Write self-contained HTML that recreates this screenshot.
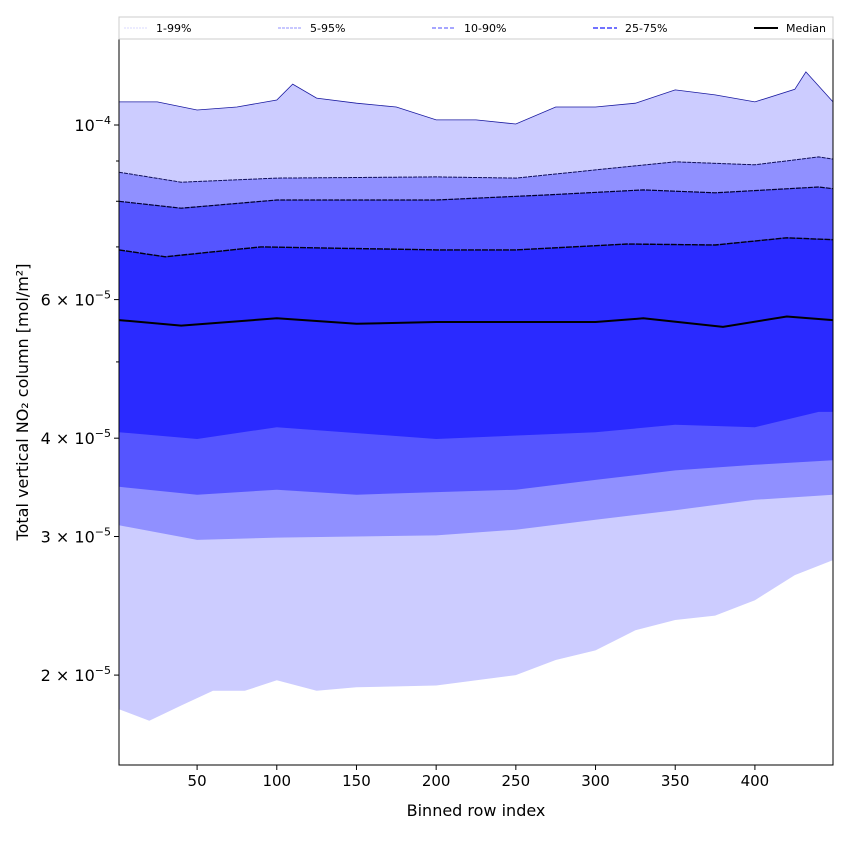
<!DOCTYPE html>
<html><head><meta charset="utf-8"><style>
body{margin:0;background:#fff;font-family:"DejaVu Sans","Liberation Sans",sans-serif}
</style></head><body>
<svg id="chart" width="850" height="850" xmlns="http://www.w3.org/2000/svg" font-family="DejaVu Sans, Liberation Sans, sans-serif"></svg>
<script>
// data (values in units of 1e-5 mol/m²)
const xsP99=[1,25,50,75,100,110,125,150,175,200,225,250,275,300,325,350,375,400,425,432,449];
const p99=[10.7,10.7,10.45,10.54,10.76,11.27,10.82,10.66,10.54,10.15,10.15,10.03,10.54,10.54,10.66,11.08,10.92,10.7,11.1,11.68,10.7];
const xsP95=[1,40,100,200,250,300,350,400,440,449];
const p95=[8.71,8.46,8.56,8.59,8.56,8.77,8.98,8.90,9.11,9.05];
const xsP90=[1,40,100,200,270,330,375,440,449];
const p90=[8.00,7.84,8.03,8.03,8.15,8.27,8.20,8.34,8.30];
const xsP75=[1,30,90,200,250,320,375,420,449];
const p75=[6.94,6.80,7.00,6.94,6.94,7.06,7.04,7.19,7.15];
const xsMed=[1,40,100,150,200,300,330,380,420,449];
const med=[5.65,5.56,5.68,5.59,5.62,5.62,5.68,5.54,5.71,5.65];
const xsP25=[1,50,100,200,300,350,400,440,449];
const p25=[4.07,3.99,4.13,3.99,4.07,4.16,4.13,4.32,4.32];
const xsP10=[1,50,100,150,250,300,350,400,449];
const p10=[3.47,3.39,3.44,3.39,3.44,3.54,3.64,3.70,3.75];
const xsP5=[1,50,100,200,250,300,350,400,449];
const p5=[3.10,2.97,2.99,3.01,3.06,3.15,3.24,3.34,3.39];
const xsP1=[1,20,40,60,80,100,125,150,200,250,275,300,325,350,375,400,425,449];
const p1=[1.81,1.75,1.83,1.91,1.91,1.97,1.91,1.93,1.94,2.0,2.09,2.15,2.28,2.35,2.38,2.49,2.68,2.80];
const xTicks=[50,100,150,200,250,300,350,400];
const yTickVals=[2,3,4,6,10];
const yTickLabels=["2","3","4","6",""];
const yMinor=[5,7,8,9];

const NS="http://www.w3.org/2000/svg";
const svg=document.getElementById('chart');
const L=119,R=833,T=39,B=765;
const X=v=>L+(v-1)/(449-1)*(R-L);
const Y=v=>125+(-Math.log10(v/10))*787;
function el(tag,attrs,parent){const e=document.createElementNS(NS,tag);for(const k in attrs)e.setAttribute(k,attrs[k]);(parent||svg).appendChild(e);return e;}
function pts(xs,ys){return xs.map((x,i)=>X(x).toFixed(1)+","+Y(ys[i]).toFixed(1));}
function band(xa,a,xb,b,fill,name){
  const p=pts(xa,a).concat(pts(xb,b).reverse());
  const e=el('polygon',{points:p.join(' '),fill:fill});
  
  
}
function line(xs,ys,stroke,w,dash,name){
  const e=el('polyline',{points:pts(xs,ys).join(' '),fill:'none',stroke:stroke,'stroke-width':w,'stroke-dasharray':dash||'none'});
  
  
}
band(xsP99,p99,xsP1,p1,'#ccccff','band-1-99');
band(xsP95,p95,xsP5,p5,'#9090ff','band-5-95');
band(xsP90,p90,xsP10,p10,'#5555ff','band-10-90');
band(xsP75,p75,xsP25,p25,'#2a2aff','band-25-75');
line(xsP99,p99,'#1a1aa0',0.8,'','line-p99');
line(xsP95,p95,'#10105a',1,'4,1','line-p95');
line(xsP90,p90,'#000030',1.2,'5,1','line-p90');
line(xsP75,p75,'#000010',1.4,'6,1','line-p75');
line(xsMed,med,'#000',2,'','line-median');
const f=el('rect',{x:L,y:T,width:R-L,height:B-T,fill:'none',stroke:'#000','stroke-width':1});

xTicks.forEach(t=>{
  const x=X(t);
  const tk=el('line',{x1:x,x2:x,y1:B,y2:B+5,stroke:'#000'});
  
  const tx=el('text',{x:x,y:B+21,'text-anchor':'middle','font-size':15});tx.textContent=t;
  
});
yTickVals.forEach((v,i)=>{
  const y=Y(v);
  const tk=el('line',{x1:L-5,x2:L,y1:y,y2:y,stroke:'#000'});
  
  const tx=el('text',{x:L-8,y:y+6,'text-anchor':'end','font-size':16});
  if(v===10){tx.innerHTML='10<tspan dy="-7" font-size="11">−4</tspan>';}
  else{tx.innerHTML=yTickLabels[i]+' × 10<tspan dy="-7" font-size="11">−5</tspan>';}
  
});
yMinor.forEach(v=>{
  const y=Y(v);
  const tk=el('line',{x1:L-3,x2:L,y1:y,y2:y,stroke:'#000'});
  
});
const xl=el('text',{x:(L+R)/2,y:816,'text-anchor':'middle','font-size':16});xl.textContent='Binned row index';

const yl=el('text',{x:0,y:0,'text-anchor':'middle','font-size':16,transform:'translate(28,402) rotate(-90)'});yl.textContent='Total vertical NO₂ column [mol/m²]';

const lg=el('rect',{x:119,y:17,width:714,height:22,fill:'#fff',stroke:'#ccc'});

const legItems=[['1-99%',124,'#ccccff',0.8,'2,1'],['5-95%',278,'#9090ff',1,'3,1'],['10-90%',432,'#7070ff',1.2,'4,2'],['25-75%',593,'#4444ff',1.5,'5,2'],['Median',754,'#000',2,'']];
legItems.forEach(it=>{
  const ln=el('line',{x1:it[1],x2:it[1]+24,y1:28,y2:28,stroke:it[2],'stroke-width':it[3],'stroke-dasharray':it[4]||'none'});
  
  const t=el('text',{x:it[1]+32,y:32,'font-size':11});t.textContent=it[0];
  
});
</script>
</body></html>
